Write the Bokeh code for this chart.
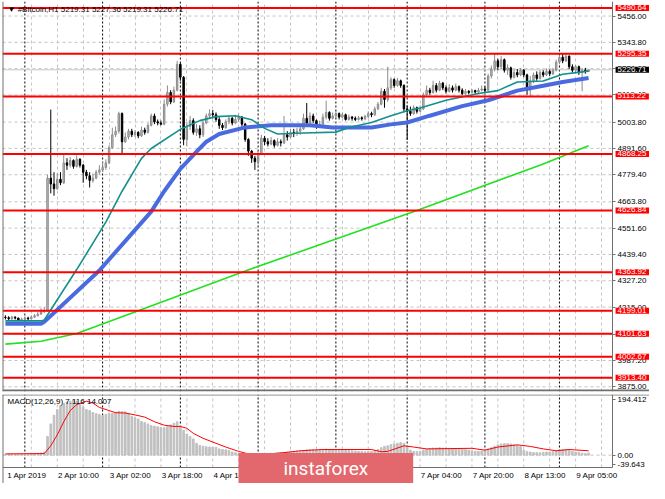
from bokeh.plotting import figure
from bokeh.layouts import column
from bokeh.models import (ColumnDataSource, FixedTicker, PrintfTickFormatter, Span,
                          Label, Range1d, Grid, LinearAxis)
from bokeh.embed import file_html
from bokeh.resources import INLINE

# ---------------- data (bar index = hourly bar) ----------------
first_open = 4172
close = [
    4170, 4165, 4172, 4168, 4160, 4163, 4168, 4165, 4172, 4178,
    4185, 4195, 4200, 4765, 4740, 4720, 4760, 4745, 4830, 4820,
    4840, 4815, 4845, 4820, 4790, 4775, 4755, 4765, 4790, 4800,
    4810, 4830, 4895, 4950, 4965, 5040, 4920, 4940, 4965, 4950,
    4960, 4945, 4970, 4960, 4990, 5030, 5005, 5000, 4995, 5080,
    5130, 5090, 5140, 5250, 5195, 4930, 4985, 5010, 4960, 4975,
    4950, 5000, 5030, 5040, 5035, 5015, 4990, 4980, 5005, 5020,
    5000, 5015, 5025, 4995, 4930, 4880, 4850, 4835, 4870, 4935,
    4920, 4910, 4925, 4905, 4920, 4915, 4950, 4940, 4960, 4955,
    4965, 4975, 5020, 5000, 5030, 5010, 4985, 4995, 5025, 5045,
    5020, 5030, 5040, 5025, 5035, 5015, 5025, 5020, 5015, 5022,
    5018, 5028, 5040, 5035, 5060, 5080, 5135, 5100, 5150, 5185,
    5160, 5180, 5160, 5060, 5050, 5040, 5065, 5050, 5060, 5120,
    5140, 5130, 5160, 5140, 5170, 5150, 5135, 5150, 5140, 5155,
    5140, 5125, 5135, 5130, 5138, 5132, 5140, 5145, 5140, 5200,
    5230, 5265, 5240, 5270, 5225, 5235, 5195, 5215, 5205, 5225,
    5205, 5140, 5180, 5205, 5190, 5215, 5205, 5220, 5210, 5225,
    5260, 5280, 5265, 5285, 5240, 5225, 5240, 5215, 5225, 5219.31,
    5226.71,
]
high = [
    4180, 4176, 4178, 4176, 4170, 4170, 4175, 4174, 4180, 4186,
    4195, 4210, 4215, 4780, 5057, 4790, 4785, 4790, 4870, 4850,
    4855, 4845, 4862, 4850, 4825, 4800, 4790, 4785, 4800, 4820,
    4835, 4845, 4905, 4980, 4985, 5048, 5045, 4960, 4975, 4975,
    4970, 4965, 4985, 4980, 5000, 5040, 5040, 5015, 5010, 5100,
    5160, 5140, 5155, 5265, 5255, 5200, 5005, 5030, 5020, 4995,
    4990, 5010, 5040, 5058, 5055, 5045, 5025, 5000, 5015, 5030,
    5025, 5035, 5040, 5030, 5000, 4935, 4885, 4860, 4880, 4950,
    4945, 4935, 4940, 4930, 4935, 4930, 5030, 4965, 4975, 4975,
    4980, 4985, 5040, 5085, 5045, 5040, 5015, 5010, 5040, 5095,
    5050, 5045, 5050, 5045, 5045, 5040, 5035, 5030, 5028, 5030,
    5028, 5035, 5050, 5048, 5070, 5090, 5150, 5145, 5240, 5195,
    5190, 5192, 5185, 5165, 5075, 5070, 5075, 5070, 5075, 5130,
    5160, 5150, 5180, 5170, 5180, 5175, 5160, 5165, 5160, 5168,
    5160, 5148, 5145, 5140, 5145, 5142, 5150, 5160, 5155, 5210,
    5245, 5295, 5275, 5285, 5275, 5250, 5240, 5228, 5230, 5235,
    5230, 5210, 5200, 5215, 5220, 5225, 5225, 5232, 5228, 5235,
    5270, 5290, 5295, 5293, 5288, 5250, 5248, 5245, 5235, 5235,
    5227.36,
]
low = [
    4162, 4160, 4160, 4162, 4155, 4155, 4158, 4160, 4162, 4168,
    4175, 4182, 4190, 4195, 4700, 4690, 4715, 4735, 4740, 4800,
    4810, 4805, 4810, 4810, 4745, 4760, 4725, 4745, 4760, 4780,
    4790, 4800, 4825, 4890, 4940, 4955, 4870, 4915, 4930, 4940,
    4940, 4935, 4940, 4950, 4955, 4985, 4995, 4990, 4990, 4990,
    5070, 5080, 5085, 5135, 5180, 4905, 4900, 4970, 4950, 4945,
    4935, 4940, 4995, 5020, 5020, 5005, 4975, 4970, 4975, 4995,
    4990, 4995, 5005, 4985, 4920, 4860, 4830, 4800, 4810, 4865,
    4905, 4900, 4905, 4895, 4900, 4900, 4910, 4925, 4935, 4940,
    4945, 4950, 4970, 4990, 4995, 5000, 4975, 4980, 4990, 5015,
    5010, 5015, 5020, 5015, 5020, 5010, 5010, 5010, 5008, 5010,
    5010, 5012, 5020, 5025, 5030, 5055, 5075, 5065, 5090, 5140,
    5150, 5155, 5150, 5045, 4928, 5030, 5035, 5040, 5045, 5055,
    5115, 5120, 5125, 5130, 5135, 5140, 5125, 5130, 5130, 5135,
    5130, 5118, 5120, 5122, 5125, 5125, 5128, 5135, 5130, 5135,
    5190, 5220, 5225, 5230, 5215, 5205, 5185, 5190, 5195, 5200,
    5195, 5120, 5115, 5170, 5180, 5185, 5195, 5200, 5200, 5205,
    5220, 5250, 5255, 5260, 5230, 5215, 5210, 5205, 5135, 5210,
    5219.31,
]

# moving averages (bar index, price)
ma_fast_i = [0, 11, 12, 22, 31, 36, 42, 45, 54, 60, 65, 71, 76, 80, 84, 92, 102, 106,
             113, 119, 124, 128, 136, 146, 152, 158, 166, 172, 180]
ma_fast_p = [4156, 4156, 4160, 4375, 4577, 4709, 4849, 4891, 4973, 5010, 5027, 5031, 5014,
             4977, 4953, 4957, 4961, 4981, 5002, 5031, 5052, 5064, 5097, 5126, 5138, 5175,
             5179, 5208, 5221]
ma_slow_i = [0, 11, 12, 29, 45, 49, 54, 59, 62, 66, 74, 82, 94, 101, 113, 119, 124, 131,
             141, 149, 158, 166, 172, 180]
ma_slow_p = [4144, 4144, 4152, 4371, 4622, 4709, 4804, 4878, 4920, 4953, 4981, 4990, 4990,
             4981, 4981, 4994, 5002, 5031, 5072, 5097, 5138, 5159, 5175, 5192]
ma_long_i = [0, 11, 22, 41, 73, 127, 165, 180]
ma_long_p = [4057, 4069, 4102, 4199, 4364, 4627, 4820, 4903]

# MACD histogram per bar and signal line points
macd_hist = [
    2, 3, 3, 2, 3, 4, 3, 4, 5, 5,
    6, 7, 10, 60, 100, 128, 146, 158, 166, 170,
    173, 178, 172, 163, 154, 146, 143, 137, 133, 130,
    127, 131, 133, 134, 138, 141, 140, 139, 133, 124,
    120, 116, 108, 104, 100, 95, 93, 91, 89, 88,
    91, 97, 102, 107, 93, 80, 68, 60, 52, 38,
    31, 29, 27, 26, 26, 25, 20, 18, 17, 15,
    10, 8, 5, 3, 2, 2, 2, 3, 3, 4,
    5, 5, 6, 6, 7, 8, 9, 10, 11, 12,
    13, 14, 15, 17, 18, 18, 17, 17, 18, 19,
    18, 17, 17, 16, 16, 15, 15, 14, 13, 12,
    12, 11, 12, 12, 14, 18, 24, 28, 30, 34,
    36, 38, 40, 38, 30, 16, 12, 11, 12, 16,
    19, 21, 23, 23, 24, 23, 22, 22, 21, 21,
    20, 19, 18, 16, 14, 12, 12, 13, 15, 20,
    24, 28, 33, 36, 37, 37, 36, 33, 31, 28,
    16, 12, 10, 8, 8, 8, 9, 10, 10, 11,
    14, 17, 18, 18, 16, 12, 10, 9, 6, 5,
    7.116,
]
signal_i = [0, 12, 14, 16, 18, 20, 22, 25, 27, 29, 32, 34, 37, 40, 43, 46, 49, 52, 54, 56,
            58, 61, 64, 68, 72, 75, 80, 86, 91, 98, 113, 116, 118, 123, 126, 130, 137, 144,
            148, 152, 158, 162, 166, 170, 174, 180]
signal_v = [4, 5, 30, 65, 107, 143, 162, 173, 167, 153, 143, 136, 135, 129, 122, 107, 96, 92,
            92, 86, 70, 54, 42, 26, 12, 4, 3, 8, 14, 18, 18, 11, 12, 30, 26, 20, 21, 22, 16,
            26, 33, 28, 20, 14, 18, 14.007]

levels = [5490.64, 5295.35, 5113.22, 4868.25, 4626.84, 4363.92, 4199.01, 4101.63, 4002.67, 3913.40]
last_price = 5226.71
price_ticks = [5456.00, 5343.80, 5231.60, 5119.40, 5003.80, 4891.60, 4779.40, 4663.80,
               4551.60, 4439.40, 4327.20, 4215.00, 4099.40, 3987.20, 3875.00]
macd_tick_pos = [178.7, 0.0, -28.7]
macd_tick_text = ["194.412", "0.00", "-39.643"]
time_label_idx = [0, 16, 32, 48, 64, 80, 96, 112, 128, 144, 160, 176]
time_labels = ["1 Apr 2019", "2 Apr 10:00", "3 Apr 02:00", "3 Apr 18:00", "4 Apr 10:00",
               "5 Apr 02:00", "5 Apr 18:00", "6 Apr 10:00", "7 Apr 04:00", "7 Apr 20:00",
               "8 Apr 13:00", "9 Apr 05:00"]
day_starts = [6, 30, 54, 78, 102, 124, 148, 171]
grid_idx = list(range(8, 188, 8))

title_text = "\u25bc #Bitcoin,H1  5219.31 5227.36 5219.31 5226.71"
macd_title = "MACD(12,26,9) 7.116 14.007"
watermark = "instaforex"

# ---------------- layout ----------------
FONT = "Liberation Sans"
W = 649
X0, XA, XE = -0.9, 187.4, 198.8      # left edge, price-axis position, right edge
Y0, Y1 = 3855, 5518
M0, M1 = -39.643, 194.412
MB = -90.9                           # bottom of MACD canvas (room for time labels)
GRID_COL = "#c4c4c4"
AX_COL = "#707070"

n = len(close)
idx = list(range(n))
opens = [first_open] + close[:-1]
bull = dict(x=[], top=[], bottom=[], hi=[], lo=[])
bear = dict(x=[], top=[], bottom=[], hi=[], lo=[])
for i in idx:
    o, c = opens[i], close[i]
    d = bull if c >= o else bear
    d["x"].append(i)
    d["top"].append(max(o, c))
    d["bottom"].append(min(o, c))
    d["hi"].append(max(high[i], o, c))
    d["lo"].append(min(low[i], o, c))

p = figure(width=W, height=392, x_range=Range1d(X0, XE), y_range=Range1d(Y0, Y1),
           output_backend="svg", toolbar_location=None, x_axis_location=None,
           y_axis_location=None, min_border_left=2, min_border_right=0,
           min_border_top=1, min_border_bottom=1)
q = figure(width=W, height=91, x_range=p.x_range, y_range=Range1d(MB, M1),
           output_backend="svg", toolbar_location=None, x_axis_location=None,
           y_axis_location=None, min_border_left=2, min_border_right=0,
           min_border_top=2, min_border_bottom=0)


def style_axis(ax):
    ax.axis_line_color = AX_COL
    ax.major_tick_line_color = AX_COL
    ax.major_tick_out = 3
    ax.major_tick_in = 0
    ax.minor_tick_line_color = None
    ax.major_label_standoff = 2
    ax.major_label_text_font = FONT
    ax.major_label_text_font_size = "8px"
    ax.major_label_text_color = "black"


for f in (p, q):
    f.outline_line_color = None
    f.grid.visible = False
    f.add_layout(Span(location=X0, dimension="height", line_color=AX_COL, line_width=2))

# ---- main panel ----
p.add_layout(Grid(dimension=0, ticker=FixedTicker(ticks=grid_idx),
                  grid_line_color=GRID_COL, grid_line_dash="3 3"))
p.segment(x0=X0, y0=price_ticks, x1=XA, y1=price_ticks, line_color=GRID_COL,
          line_dash="3 3", line_width=1)
for d in day_starts:
    p.add_layout(Span(location=d, dimension="height", line_color="black",
                      line_dash="2 2", line_width=1, level="underlay"))
p.segment(x0=X0, y0=last_price, x1=XA, y1=last_price, line_color="#c8c8c8", line_width=1)

sb = ColumnDataSource(bull)
sr = ColumnDataSource(bear)
p.segment(x0="x", y0="lo", x1="x", y1="hi", source=sb, line_color="#8c8c8c", line_width=1)
p.vbar(x="x", top="top", bottom="bottom", width=0.45, source=sb,
       fill_color="#bdbdbd", line_color="#8c8c8c", line_width=1)
p.segment(x0="x", y0="lo", x1="x", y1="hi", source=sr, line_color="black", line_width=1)
p.vbar(x="x", top="top", bottom="bottom", width=0.45, source=sr,
       fill_color="black", line_color="black", line_width=1)

p.line(ma_long_i, ma_long_p, line_color="#22e022", line_width=1.6)
p.line(ma_slow_i, ma_slow_p, line_color="#4a6be0", line_width=4)
p.line(ma_fast_i, ma_fast_p, line_color="#12908e", line_width=1.6)

p.segment(x0=X0, y0=levels, x1=XA, y1=levels, line_color="#ff0000", line_width=2)

pax = LinearAxis(fixed_location=XA, ticker=FixedTicker(ticks=price_ticks),
                 formatter=PrintfTickFormatter(format="%.2f"))
style_axis(pax)
p.add_layout(pax, "right")

for lv in levels:
    p.add_layout(Label(x=XA, y=lv, x_offset=3, text="%.2f" % lv, text_font=FONT,
                       text_font_size="8px", text_color="white", text_align="left",
                       text_baseline="middle", background_fill_color="#ff0000",
                       padding=dict(left=2, right=3, top=0, bottom=1)))
p.add_layout(Label(x=XA, y=last_price, x_offset=3, text="%.2f" % last_price, text_font=FONT,
                   text_font_size="8px", text_color="white", text_align="left",
                   text_baseline="middle", background_fill_color="black",
                   padding=dict(left=2, right=3, top=0, bottom=1)))
p.add_layout(Label(x=X0, y=Y1, x_offset=5, y_offset=-8, text=title_text, text_font=FONT,
                   text_font_size="8px", text_color="black", text_align="left",
                   text_baseline="middle"))
# panel separator
p.add_layout(Span(location=Y0 + 4.5, dimension="width", line_color=AX_COL, line_width=2))

# ---- MACD panel ----
q.segment(x0=grid_idx, y0=M0, x1=grid_idx, y1=M1, line_color=GRID_COL, line_dash="3 3")
q.segment(x0=day_starts, y0=M0, x1=day_starts, y1=M1, line_color="black", line_dash="2 2")
q.segment(x0=X0, y0=0, x1=XA, y1=0, line_color=GRID_COL, line_dash="3 3")
q.vbar(x=idx, top=macd_hist, bottom=0, width=0.5, fill_color="#c0c0c0", line_color="#c0c0c0")
q.line(signal_i, signal_v, line_color="#ff0000", line_width=1)
q.add_layout(Span(location=M1 - 1.5, dimension="width", line_color=AX_COL, line_width=1))

qax = LinearAxis(fixed_location=XA, ticker=FixedTicker(ticks=macd_tick_pos), bounds=(M0, M1))
qax.major_label_overrides = {pos: t for pos, t in zip(macd_tick_pos, macd_tick_text)}
style_axis(qax)
q.add_layout(qax, "right")

shift = 6.6
xt = [i + shift for i in time_label_idx]
tax = LinearAxis(fixed_location=M0, ticker=FixedTicker(ticks=xt), bounds=(X0, XA))
tax.major_label_overrides = {pos: t for pos, t in zip(xt, time_labels)}
style_axis(tax)
tax.major_tick_out = 0
tax.major_label_standoff = 3
q.add_layout(tax, "below")

q.add_layout(Label(x=X0, y=M1, x_offset=5, y_offset=-7, text=macd_title, text_font=FONT,
                   text_font_size="8px", text_color="black", text_align="left",
                   text_baseline="middle"))

q.add_layout(Label(x=98.9, y=-42.8, text=watermark, text_font="Roboto",
                   text_font_size="19px", text_color="white", text_align="center",
                   text_baseline="middle", background_fill_color="#e2686d",
                   padding=dict(left=45, right=45, top=4, bottom=4), level="overlay"))

layout = column(p, q, spacing=0)
open("out.html", "w").write(file_html(layout, INLINE))
